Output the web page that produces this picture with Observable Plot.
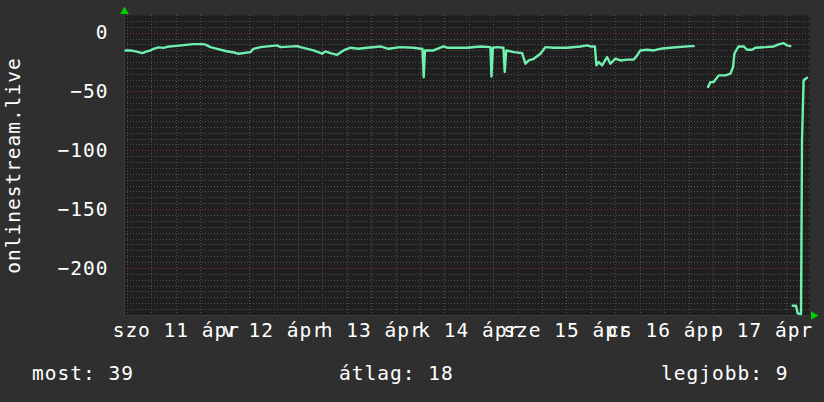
<!DOCTYPE html>
<html>
<head>
<meta charset="utf-8">
<script src="https://cdn.jsdelivr.net/npm/d3@7"></script>
<script src="https://cdn.jsdelivr.net/npm/@observablehq/plot@0.6"></script>
<style>
  html, body { margin: 0; padding: 0; background: #2f2f2f; }
  #wrap { width: 824px; height: 402px; position: relative; overflow: hidden; background: #2f2f2f; }
  #legend { position: relative; width: 824px; height: 52px; font-family: "DejaVu Sans Mono", monospace; font-size: 19.5px; letter-spacing: 1px; color: #fff; }
  #legend span { position: absolute; top: 14px; line-height: 1; white-space: pre; }
  svg { display: block; }
</style>
</head>
<body>
<div id="wrap"><div id="chart"></div><div id="legend"></div></div>
<script>
// hours since Sat 11 Apr 00:00, and the plotted value (null = no data)
const hours = [-0.49, 0.74, 1.97, 3.61, 4.42, 5.65, 6.39, 7.62, 8.84, 9.75, 11.38, 13.76, 16.22, 18.35, 19.17, 20.39, 22.04, 24.08, 26.54, 27.27, 30.22, 30.96, 32.68, 36.78, 37.59, 41.69, 42.5, 45.7, 47.84, 48.65, 49.87, 51.52, 53.07, 54.79, 56.75, 58.89, 62.16, 64.12, 67.07, 70.27, 71.99, 72.48, 72.8, 73.1, 75.18, 77.64, 78.55, 83.46, 86.73, 89.19, 89.43, 89.8, 90.83, 92.38, 92.7, 93.07, 94.92, 96.98, 97.79, 98.6, 99.83, 101.47, 102.7, 104.74, 108.03, 111.3, 112.95, 113.76, 114.86, 115.23, 115.8, 116.63, 117.86, 118.67, 119.9, 121.13, 122.77, 124.4, 125.23, 126.04, 127.69, 129.31, 130.96, 133.41, 138.33, 139.14, 141.0, 142.68, 143.24, 144.05, 145.29, 146.93, 148.16, 148.82, 149.14, 149.8, 150.2, 151.43, 152.26, 153.49, 154.3, 156.76, 158.8, 160.03, 161.26, 162.09, 162.9, 163.2, 163.46, 164.29, 164.69, 165.52, 165.76, 166.15, 166.99];
const rank = [-14.7, -14.7, -15.5, -17, -16, -14.7, -13.3, -12.1, -12.5, -11.6, -11, -10.2, -9.3, -9.3, -9.8, -11.9, -13.3, -15.2, -16.7, -17.5, -16.1, -13.3, -11.9, -10.4, -11.9, -11, -11.9, -14.7, -17.5, -15.5, -17, -18.4, -14.7, -12.4, -13.3, -12.4, -11.3, -13.3, -11.9, -12.4, -13.3, -13.3, -37.5, -14.7, -14.7, -11.3, -12.4, -12.4, -11.3, -11.9, -36.8, -12.4, -11.9, -12.4, -33, -14.7, -16.1, -17, -26, -23.2, -21.8, -17.5, -11.9, -12.4, -12.4, -11.3, -10.4, -11.3, -11.3, -27.4, -24.6, -27.4, -20.3, -26, -21.7, -23.2, -22.5, -22.5, -18.9, -14.7, -14.1, -14.7, -13.3, -12.4, -11, -11, null, -45.8, -41.6, -41.6, -35.9, -35.9, -34.5, -28.9, -17.5, -13.3, -11.3, -11.3, -14.1, -14.1, -12.4, -11.9, -11.3, -9.6, -8.5, -10.4, -11, null, -231.7, -231.7, -238.2, -238.8, -91, -40, -37.9];

const dayTicks = [12, 36, 60, 84, 108, 132, 156];
const dayLabels = ["szo 11 ápr", "v 12 ápr", "h 13 ápr", "k 14 ápr", "sze 15 ápr", "cs 16 ápr", "p 17 ápr"];
const yTicks = [0, -50, -100, -150, -200];
const yTitle = "onlinestream.live";
const legendLabels = ["most", "átlag", "legjobb"];
const legendValues = [39, 18, 9];

const data = hours.map((h, i) => ({h, v: rank[i]}));
const xDomain = [-0.74, 167.6];
const yDomain = [-240, 15];
const dayLines = d3.range(0, 168, 24);
const minorX = d3.range(0, 168, 6).filter(d => d % 24 !== 0);
const minorY = d3.range(-235, 15, 5).filter(d => d % 50 !== 0);

const chart = Plot.plot({
  width: 824,
  height: 350,
  marginLeft: 124,
  marginRight: 15,
  marginTop: 15,
  marginBottom: 35,
  x: {domain: xDomain, label: null},
  y: {domain: yDomain, label: null},
  style: {background: "#2f2f2f", color: "#ffffff", fontFamily: "'DejaVu Sans Mono', monospace", fontSize: "19.5px", letterSpacing: "1px", overflow: "visible"},
  marks: [
    Plot.frame({fill: "#1f1f1f", stroke: null}),
    Plot.ruleY(minorY, {stroke: "#505050", strokeDasharray: "1,2", shapeRendering: "crispEdges"}),
    Plot.ruleX(minorX, {stroke: "#505050", strokeDasharray: "1,2", shapeRendering: "crispEdges"}),
    Plot.ruleY(yTicks, {stroke: "#7a3434", strokeDasharray: "1,2", shapeRendering: "crispEdges"}),
    Plot.ruleX(dayLines, {stroke: "#7a3434", strokeDasharray: "1,2", shapeRendering: "crispEdges"}),
    Plot.ruleX([xDomain[0]], {stroke: "#3a3a3a", shapeRendering: "crispEdges"}),
    Plot.ruleY([yDomain[0]], {stroke: "#3a3a3a", shapeRendering: "crispEdges"}),
    Plot.line(data, {x: "h", y: "v", stroke: "#70f0b0", strokeWidth: 2.4}),
    Plot.axisX({ticks: dayTicks, tickFormat: d => dayLabels[dayTicks.indexOf(d)], tickSize: 0, tickPadding: 8, fill: "#ffffff"}),
    Plot.axisY({ticks: yTicks, tickSize: 0, tickPadding: 16, fill: "#ffffff"}),
    Plot.text([yTitle], {text: d => d, frameAnchor: "left", dx: -111, rotate: -90, lineAnchor: "middle", textAnchor: "middle", fill: "#ffffff"}),
    Plot.dot([0], {frameAnchor: "top-left", dy: -4, symbol: "triangle", r: 3.2, fill: "#00d000", stroke: null}),
    Plot.dot([0], {frameAnchor: "bottom-right", dx: 4, symbol: "triangle", rotate: 90, r: 3.2, fill: "#00d000", stroke: null})
  ]
});
document.getElementById("chart").appendChild(chart);

const legendLeft = [32, 339, 661];
const legend = document.getElementById("legend");
legendLabels.forEach((lab, i) => {
  const s = document.createElement("span");
  s.textContent = `${lab}: ${legendValues[i]}`;
  s.style.left = legendLeft[i] + "px";
  legend.appendChild(s);
});
</script>
</body>
</html>
